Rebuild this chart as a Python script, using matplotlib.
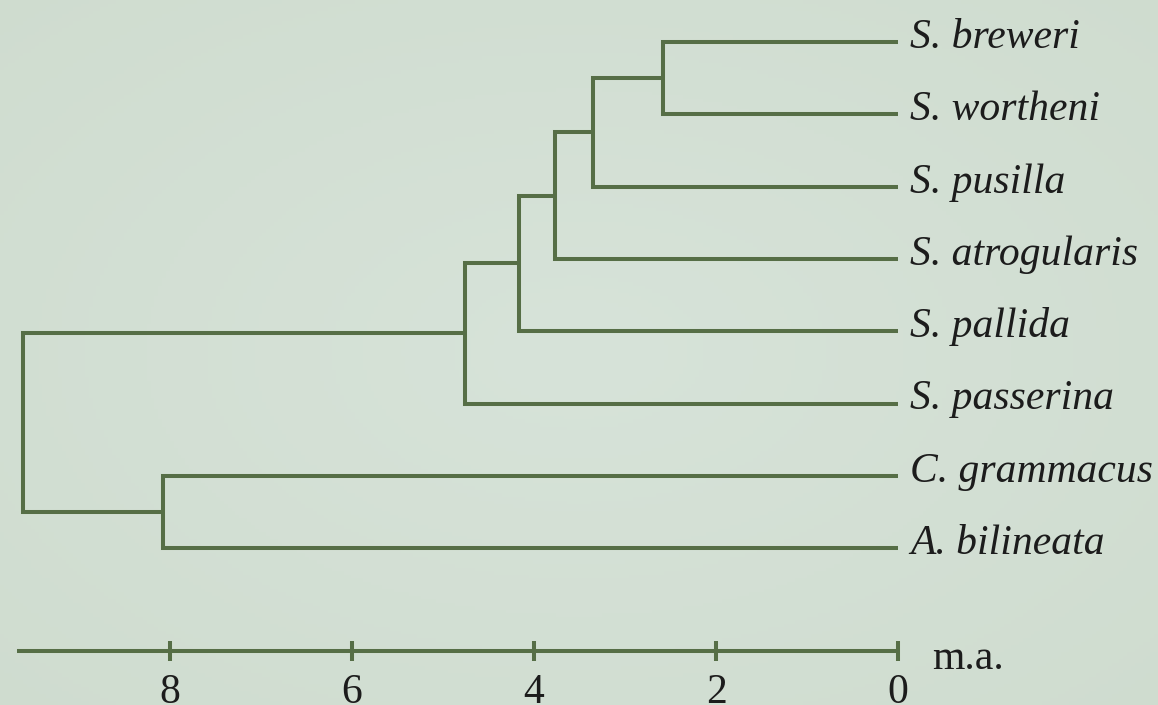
import numpy as np
import matplotlib.pyplot as plt
from matplotlib.colors import LinearSegmentedColormap

# leaves, top to bottom
taxa = ["S. breweri", "S. wortheni", "S. pusilla", "S. atrogularis",
        "S. pallida", "S. passerina", "C. grammacus", "A. bilineata"]

# merges: children are leaf indices (0-7) or earlier merges (8+), age in m.a.
merge_a = [0, 8, 9, 10, 11, 6, 12]
merge_b = [1, 2, 3, 4, 5, 7, 13]
merge_age = [2.58, 3.35, 3.77, 4.17, 4.76, 8.08, 9.62]

scale_ticks = [8, 6, 4, 2, 0]
scale_unit = "m.a."

LINE = "#566e46"
BG = "#d4e0d5"
TEXT = "#1c1c1c"

plt.rcParams['font.family'] = ['Liberation Serif', 'DejaVu Serif']

fig = plt.figure(figsize=(11.58, 7.05), dpi=100)
ax = fig.add_axes([0, 0, 1, 1])
# 91 px per m.a., 72.3 px per leaf row
ax.set_xlim(898 / 91, -260 / 91)
ax.set_ylim((705 - 42) / 72.3, -42 / 72.3)
ax.axis('off')

# subtle background shading
yy, xx = np.mgrid[-1:1:200j, -1:1:300j]
shade = np.sqrt(xx ** 2 + yy ** 2)
fig.patch.set_facecolor(BG)
bg_cmap = LinearSegmentedColormap.from_list("bg", ["#d7e3d9", "#cfdccf"])
ax.imshow(shade, cmap=bg_cmap, extent=[*ax.get_xlim(), *ax.get_ylim()],
          aspect='auto', zorder=0, vmin=0, vmax=1.5)

# node positions
ypos = list(range(len(taxa)))
xpos = [0.0] * len(taxa)
lw = 2.9
for a, b, h in zip(merge_a, merge_b, merge_age):
    ya, yb = ypos[a], ypos[b]
    ax.plot([xpos[a], h, h, xpos[b]], [ya, ya, yb, yb], color=LINE, lw=lw,
            solid_joinstyle='miter', solid_capstyle='butt', zorder=2)
    ypos.append((ya + yb) / 2)
    xpos.append(h)

for i, name in enumerate(taxa):
    ax.annotate(name, xy=(0, i), xytext=(12, -6), textcoords='offset pixels',
                ha='left', va='baseline', fontsize=30, style='italic', color=TEXT)

# time scale
axis_y = (651 - 42) / 72.3
ax.plot([9.68, 0], [axis_y, axis_y], color=LINE, lw=lw, solid_capstyle='butt')
for t in scale_ticks:
    ax.plot([t, t], [axis_y - 10 / 72.3, axis_y + 10 / 72.3], color=LINE, lw=lw,
            solid_capstyle='butt')
    ax.annotate(str(t), xy=(t, axis_y), xytext=(0, -52), textcoords='offset pixels',
                ha='center', va='baseline', fontsize=30, color=TEXT)
ax.annotate(scale_unit, xy=(0, axis_y), xytext=(34, -18), textcoords='offset pixels',
            ha='left', va='baseline', fontsize=30, color=TEXT)

fig.savefig("out.png", dpi=100, facecolor=BG)
